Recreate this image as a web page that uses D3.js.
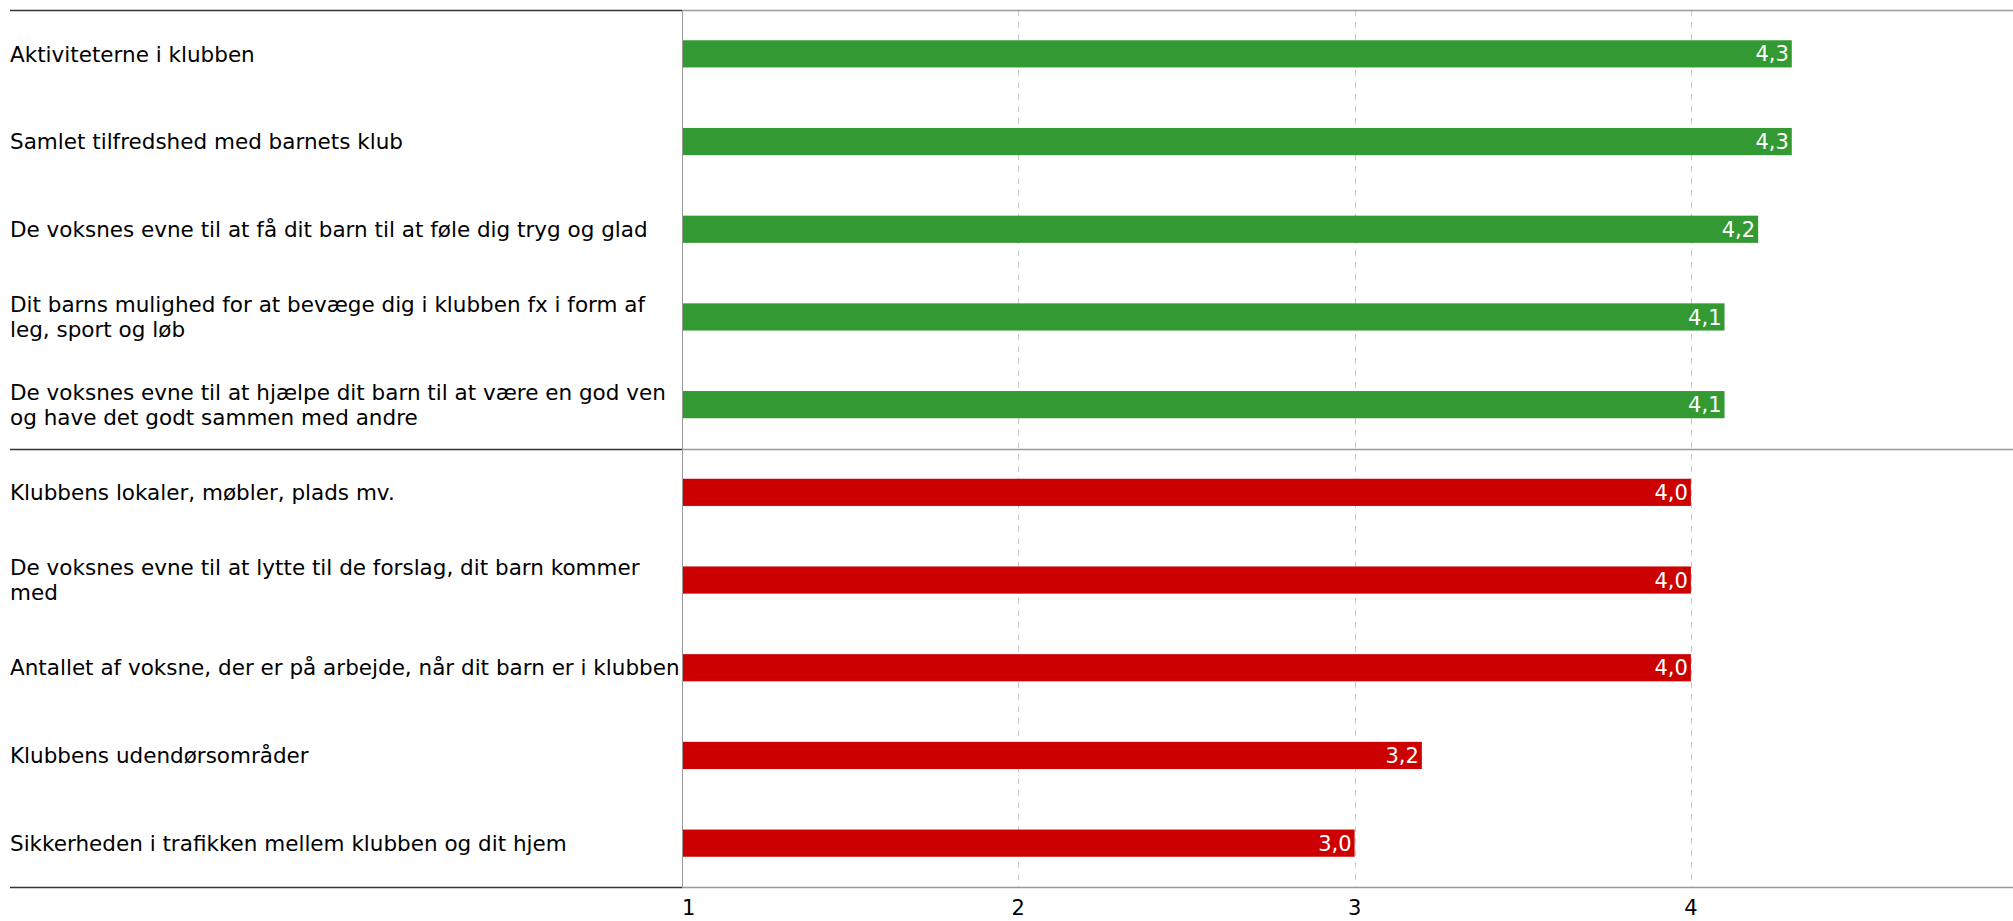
<!DOCTYPE html>
<html>
<head>
<meta charset="utf-8">
<script src="https://cdn.jsdelivr.net/npm/d3@7"></script>
<style>
  body { margin: 0; background: #fff; }
  svg { display: block; font-family: "DejaVu Sans", Verdana, sans-serif; }
</style>
</head>
<body>
<svg id="chart"></svg>
<script>
// data
const categories = [
    "Aktiviteterne i klubben",
    "Samlet tilfredshed med barnets klub",
    "De voksnes evne til at få dit barn til at føle dig tryg og glad",
    "Dit barns mulighed for at bevæge dig i klubben fx i form af\nleg, sport og løb",
    "De voksnes evne til at hjælpe dit barn til at være en god ven\nog have det godt sammen med andre",
    "Klubbens lokaler, møbler, plads mv.",
    "De voksnes evne til at lytte til de forslag, dit barn kommer\nmed",
    "Antallet af voksne, der er på arbejde, når dit barn er i klubben",
    "Klubbens udendørsområder",
    "Sikkerheden i trafikken mellem klubben og dit hjem"
];
const values = [4.3, 4.3, 4.2, 4.1, 4.1, 4.0, 4.0, 4.0, 3.2, 3.0];
const groups = ["top", "top", "top", "top", "top", "bottom", "bottom", "bottom", "bottom", "bottom"];
const xTicks = [1, 2, 3, 4];

const W = 2013, H = 921;
const leftX = 10, axisX = 682, topY = 10, bottomY = 887;
const unit = 336.3;
const fs = 21.5;

const svg = d3.select("#chart").attr("width", W).attr("height", H);

const x = d3.scaleLinear().domain([1, 5]).range([axisX, axisX + 4 * unit]);
const y = d3.scaleBand().domain(d3.range(categories.length)).range([topY, bottomY]).paddingInner(0.69).paddingOuter(0.345);
const color = d3.scaleOrdinal().domain(["top", "bottom"]).range(["#339933", "#cc0000"]);

// grid
svg.append("g").selectAll("line")
    .data(xTicks.slice(1))
    .join("line")
    .attr("x1", d => Math.round(x(d)) + 0.5)
    .attr("x2", d => Math.round(x(d)) + 0.5)
    .attr("y1", topY).attr("y2", bottomY)
    .attr("stroke", "#c8c8c8")
    .attr("stroke-dasharray", "6,6");

// bars
const bars = svg.append("g");
bars.selectAll("rect")
    .data(values)
    .join("rect")
    .attr("x", x(1))
    .attr("y", (d, i) => y(i))
    .attr("width", d => x(d) - x(1))
    .attr("height", y.bandwidth())
    .attr("fill", (d, i) => color(groups[i]));

bars.selectAll("text")
    .data(values)
    .join("text")
    .attr("x", d => x(d) - 3)
    .attr("y", (d, i) => y(i) + y.bandwidth() / 2)
    .attr("dy", "0.36em")
    .attr("text-anchor", "end")
    .attr("fill", "#fff")
    .style("font-size", "21px")
    .text(d => d3.format(".1f")(d).replace(".", ","));

// horizontal lines: top, group separator, bottom
const step = y.step();
const hlines = [topY, topY + 5 * step, bottomY];
hlines.forEach(yy => {
    const yp = Math.round(yy) + 0.5;
    svg.append("line").attr("x1", leftX).attr("x2", axisX).attr("y1", yp).attr("y2", yp)
        .attr("stroke", "#333").attr("stroke-width", 1.5);
    svg.append("line").attr("x1", axisX).attr("x2", W).attr("y1", yp).attr("y2", yp)
        .attr("stroke", "#999").attr("stroke-width", 1.5);
});

// y axis line
svg.append("line")
    .attr("x1", axisX + 0.5).attr("x2", axisX + 0.5)
    .attr("y1", topY).attr("y2", bottomY)
    .attr("stroke", "#999");

// category labels
const labels = svg.append("g").selectAll("text")
    .data(categories)
    .join("text")
    .attr("x", leftX)
    .attr("y", (d, i) => y(i) + y.bandwidth() / 2)
    .attr("fill", "#000")
    .style("font-size", fs + "px");

labels.each(function(d) {
    const lines = d.split("\n");
    const lh = 25;
    const t = d3.select(this);
    lines.forEach((ln, k) => {
        t.append("tspan")
            .attr("x", leftX)
            .attr("dy", k === 0 ? (0.36 * fs - (lines.length - 1) * lh / 2) + "px" : lh + "px")
            .text(ln);
    });
});

// x tick labels
svg.append("g").selectAll("text")
    .data(xTicks)
    .join("text")
    .attr("x", d => x(d))
    .attr("y", 915)
    .attr("text-anchor", (d, i) => i === 0 ? "start" : "middle")
    .style("font-size", "21px")
    .text(d => d);
</script>
</body>
</html>
